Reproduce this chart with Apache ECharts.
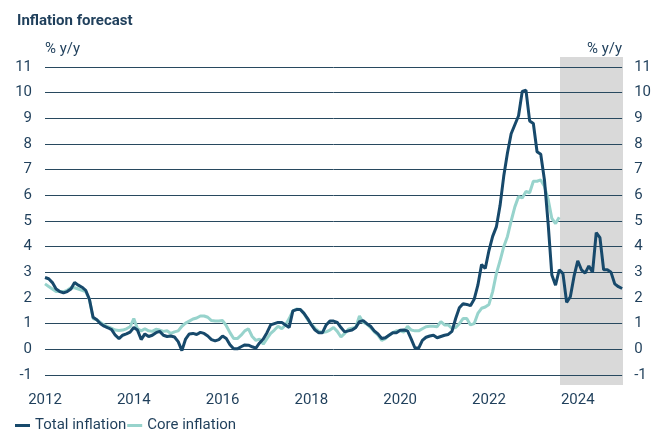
<!DOCTYPE html>
<html>
<head>
<meta charset="utf-8">
<script src="https://cdn.jsdelivr.net/npm/echarts@6/dist/echarts.min.js"></script>
<style>
  html, body { margin: 0; padding: 0; background: #fff; }
  #main_chart { width: 654px; height: 430px; }
</style>
</head>
<body>
<div id="main_chart"></div>
<script>
// monthly values, first value = Jan 2012
var startYear = 2012;
var endYear = 2025;
var forecastStart = 2023 + 7 / 12;   // shaded forecast period

var yearLabels = ['2012', '2014', '2016', '2018', '2020', '2022', '2024'];

var totalInflation = [
    2.8, 2.75, 2.6, 2.35, 2.25, 2.2, 2.25, 2.35, 2.6, 2.5, 2.42, 2.3,
    1.95, 1.25, 1.15, 1.0, 0.9, 0.84, 0.77, 0.55, 0.42, 0.55, 0.6, 0.67,
    0.85, 0.75, 0.38, 0.6, 0.5, 0.55, 0.65, 0.7, 0.55, 0.5, 0.52, 0.48,
    0.3, -0.05, 0.4, 0.6, 0.62, 0.58, 0.66, 0.62, 0.52, 0.38, 0.33, 0.38,
    0.52, 0.42, 0.18, 0.02, 0.02, 0.1, 0.17, 0.16, 0.1, 0.05, 0.25, 0.4,
    0.65, 0.95, 1.0, 1.05, 1.05, 0.95, 0.85, 1.5, 1.55, 1.55, 1.4, 1.2,
    0.95, 0.75, 0.65, 0.65, 0.95, 1.1, 1.1, 1.05, 0.85, 0.68, 0.72, 0.75,
    0.85, 1.08, 1.12, 1.0, 0.9, 0.72, 0.6, 0.42, 0.45, 0.55, 0.65, 0.65,
    0.74, 0.75, 0.72, 0.4, 0.05, 0.05, 0.35, 0.47, 0.52, 0.55, 0.45, 0.5,
    0.55, 0.58, 0.7, 1.2, 1.62, 1.78, 1.75, 1.7, 1.95, 2.5, 3.3, 3.15,
    3.85, 4.4, 4.77, 5.6, 6.75, 7.65, 8.4, 8.75, 9.1, 10.05, 10.1, 8.9,
    8.8, 7.7, 7.6, 6.6, 4.9, 2.9, 2.5, 3.1, 2.95, 1.83, 2.05, 2.85,
    3.45, 3.1, 2.97, 3.25, 3.0, 4.55, 4.35, 3.1, 3.1, 3.0, 2.55, 2.44,
    2.37
];

var coreInflation = [
    2.55, 2.45, 2.35, 2.25, 2.25, 2.25, 2.3, 2.4, 2.4, 2.35, 2.3, 2.25,
    1.95, 1.2, 1.15, 1.05, 0.95, 0.88, 0.82, 0.75, 0.73, 0.75, 0.8, 0.88,
    1.2, 0.8, 0.72, 0.8, 0.72, 0.7, 0.78, 0.75, 0.7, 0.72, 0.62, 0.68,
    0.72, 0.9, 1.02, 1.1, 1.18, 1.22, 1.3, 1.3, 1.25, 1.12, 1.1, 1.1,
    1.12, 0.92, 0.65, 0.42, 0.42, 0.55, 0.72, 0.8, 0.5, 0.35, 0.4, 0.2,
    0.42, 0.62, 0.75, 0.9, 0.8, 0.95, 1.2, 1.5, 1.57, 1.55, 1.4, 1.15,
    0.98, 0.82, 0.7, 0.66, 0.68, 0.75, 0.85, 0.7, 0.48, 0.62, 0.78, 0.82,
    0.85, 1.3, 1.05, 0.98, 0.85, 0.68, 0.55, 0.35, 0.42, 0.55, 0.65, 0.72,
    0.72, 0.67, 0.9, 0.75, 0.72, 0.72, 0.8, 0.88, 0.9, 0.9, 0.88, 1.08,
    0.95, 0.95, 0.82, 0.85, 1.0, 1.2, 1.2, 0.95, 1.0, 1.4, 1.6, 1.65,
    1.75, 2.25, 2.95, 3.45, 4.0, 4.4, 5.0, 5.55, 5.95, 5.9, 6.15, 6.1,
    6.55, 6.55, 6.6, 6.35, 5.85, 5.1, 4.9, 5.15
];

function toPairs(values) {
    return values.map(function (v, i) {
        return [startYear + i / 12, v];
    });
}

var textColor = '#1f3f5b';
var gridColor = '#28495f';
var fontFamily = 'Roboto, "Noto Sans", sans-serif';

var option = {
    animation: false,
    textStyle: { fontFamily: fontFamily },
    title: {
        text: 'Inflation forecast',
        left: 12,
        top: 9,
        textStyle: {
            fontSize: 15,
            fontWeight: 'bold',
            color: textColor,
            fontFamily: fontFamily
        }
    },
    legend: {
        left: 10,
        top: 413,
        icon: 'rect',
        itemWidth: 15,
        itemHeight: 3,
        itemGap: 1,
        textStyle: {
            fontSize: 15,
            color: textColor
        },
        data: ['Total inflation', 'Core inflation']
    },
    grid: [
        { left: 45, width: 578, top: 67, height: 308 },
        // only used for the forecast shading, a bit taller than the plot
        { left: 45, width: 578, top: 57, height: 328 }
    ],
    xAxis: [{
        type: 'value',
        gridIndex: 0,
        min: startYear,
        max: endYear,
        interval: 1,
        axisLine: { show: false },
        axisTick: { show: false },
        splitLine: { show: false },
        axisLabel: {
            margin: 18,
            fontSize: 15,
            color: textColor,
            formatter: function (v) {
                var s = String(v);
                return yearLabels.indexOf(s) >= 0 ? s : '';
            }
        }
    }, {
        type: 'value',
        gridIndex: 1,
        min: startYear,
        max: endYear,
        show: false
    }],
    yAxis: [{
        type: 'value',
        gridIndex: 0,
        min: -1,
        max: 11,
        interval: 1,
        z: 3,
        name: '% y/y',
        nameLocation: 'end',
        nameGap: 18,
        nameTextStyle: { fontSize: 15, color: textColor, align: 'left', verticalAlign: 'middle' },
        axisLine: { show: false },
        axisTick: { show: false },
        axisLabel: { margin: 13, fontSize: 15, color: textColor },
        splitLine: { lineStyle: { color: gridColor, width: 1 } }
    }, {
        type: 'value',
        gridIndex: 0,
        position: 'right',
        min: -1,
        max: 11,
        interval: 1,
        name: '% y/y',
        nameLocation: 'end',
        nameGap: 18,
        nameTextStyle: { fontSize: 15, color: textColor, align: 'right', verticalAlign: 'middle' },
        axisLine: { show: false },
        axisTick: { show: false },
        axisLabel: { margin: 12, fontSize: 15, color: textColor },
        splitLine: { show: false }
    }, {
        type: 'value',
        gridIndex: 1,
        min: 0,
        max: 1,
        show: false
    }],
    series: [{
        name: 'forecast',
        type: 'line',
        xAxisIndex: 1,
        yAxisIndex: 2,
        data: [[forecastStart, 0], [endYear, 0]],
        symbol: 'none',
        silent: true,
        lineStyle: { opacity: 0 },
        markArea: {
            silent: true,
            z: 1,
            itemStyle: { color: '#d9d9d9' },
            data: [[{ xAxis: forecastStart }, { xAxis: endYear }]]
        }
    }, {
        name: 'Total inflation',
        type: 'line',
        z: 5,
        data: toPairs(totalInflation),
        symbol: 'none',
        lineStyle: { width: 3, color: '#17496b' },
        itemStyle: { color: '#17496b' }
    }, {
        name: 'Core inflation',
        type: 'line',
        z: 4,
        data: toPairs(coreInflation),
        symbol: 'none',
        lineStyle: { width: 3, color: '#97d3cc' },
        itemStyle: { color: '#97d3cc' }
    }]
};

echarts.init(document.getElementById('main_chart')).setOption(option);
</script>
</body>
</html>
